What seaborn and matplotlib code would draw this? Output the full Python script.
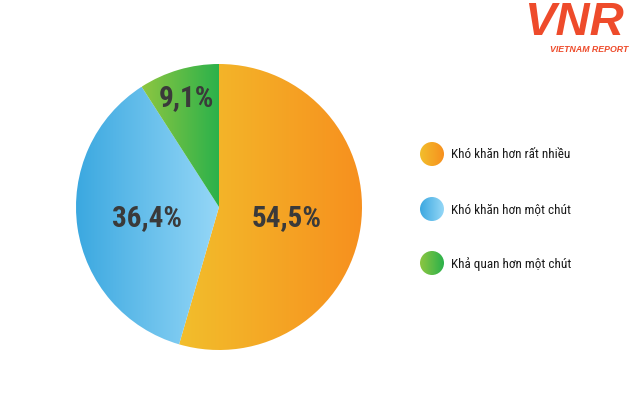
import numpy as np
import matplotlib
matplotlib.use("Agg")
import matplotlib.pyplot as plt
import seaborn as sns
from matplotlib.colors import LinearSegmentedColormap
from matplotlib.patches import Circle

# Dữ liệu
nhan = ['Khó khăn hơn rất nhiều', 'Khó khăn hơn một chút', 'Khả quan hơn một chút']
gia_tri = [54.5, 36.4, 9.1]
nhan_pct = ['54,5%', '36,4%', '9,1%']
# gradient trai -> phai cho moi lat
mau_trai = ['#F2BE2C', '#3BA8E0', '#8DC641']
mau_phai = ['#F7901E', '#95D7F7', '#2AB14B']

sns.set_theme(style="white")
plt.rcParams['font.family'] = ['Roboto Condensed', 'DejaVu Sans']
plt.rcParams['font.stretch'] = 'condensed'

W, H = 630, 414
fig = plt.figure(figsize=(W / 100, H / 100), dpi=100)
ax = fig.add_axes([0, 0, 1, 1])
ax.set_xlim(0, W)
ax.set_ylim(0, H)
ax.set_aspect('equal')
ax.axis('off')

cx, cy, R = 219, 206, 143
wedges, _ = ax.pie(gia_tri, startangle=90, counterclock=False, center=(cx, cy),
                   radius=R, colors=['none'] * 3, wedgeprops=dict(linewidth=0))
ax.set_xlim(0, W)
ax.set_ylim(0, H)


def to_gradient(patch, c1, c2, x0, x1, y0, y1):
    cmap = LinearSegmentedColormap.from_list('g', [c1, c2])
    grad = np.linspace(0, 1, 256).reshape(1, -1)
    im = ax.imshow(grad, cmap=cmap, extent=[x0, x1, y0, y1], aspect='auto',
                   origin='lower', zorder=1, interpolation='bilinear')
    im.set_clip_path(patch)


khoang_cach = [0.48, 0.51, 0.80]
for w, c1, c2, txt, d in zip(wedges, mau_trai, mau_phai, nhan_pct, khoang_cach):
    # bien ngang cua lat
    th = np.deg2rad(np.linspace(min(w.theta1, w.theta2), max(w.theta1, w.theta2), 200))
    xs = np.concatenate([[cx], cx + R * np.cos(th)])
    to_gradient(w, c1, c2, xs.min(), xs.max(), cy - R, cy + R)
    mid = np.deg2rad((w.theta1 + w.theta2) / 2)
    ax.text(cx + d * R * np.cos(mid), cy + d * R * np.sin(mid), txt,
            ha='center', va='center', fontsize=21, fontweight='bold',
            color='#3A3A3A', zorder=3)

# chu thich
ly = [H - 155, H - 210, H - 264]
for y, lab, c1, c2 in zip(ly, nhan, mau_trai, mau_phai):
    circ = Circle((432, y), 12, facecolor='none', edgecolor='none')
    ax.add_patch(circ)
    to_gradient(circ, c1, c2, 420, 444, y - 12, y + 12)
    ax.text(451, y, lab, ha='left', va='center', fontsize=9.5, color='#1A1A1A')

# logo
ax.text(574, H - 23, 'VNR', ha='center', va='center', fontsize=34, fontweight='bold',
        fontstyle='italic', color='#EE4B2B', family=['Liberation Sans', 'DejaVu Sans'],
        fontstretch='normal')
ax.text(628, H - 49, 'VIETNAM REPORT', ha='right', va='center', fontsize=6.3,
        fontweight='bold', fontstyle='italic', color='#EE4B2B',
        family=['Liberation Sans', 'DejaVu Sans'], fontstretch='normal')

fig.savefig('out.png', dpi=100, facecolor='white')
